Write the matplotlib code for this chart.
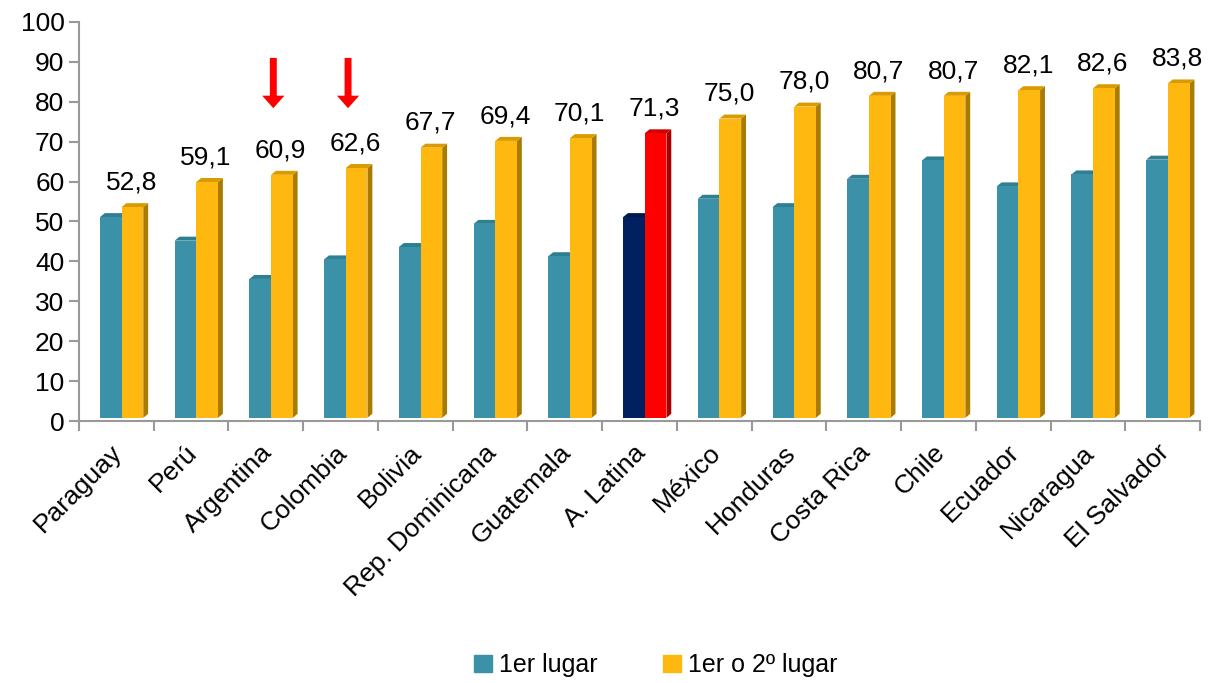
import matplotlib.pyplot as plt
import numpy as np
from matplotlib.patches import Polygon, Patch

plt.rcParams['font.family'] = ['Liberation Sans', 'DejaVu Sans']

# Data
paises = ["Paraguay", "Perú", "Argentina", "Colombia", "Bolivia",
          "Rep. Dominicana", "Guatemala", "A. Latina", "México", "Honduras",
          "Costa Rica", "Chile", "Ecuador", "Nicaragua", "El Salvador"]
primer_lugar = [50.3, 44.4, 34.8, 39.7, 42.8, 48.6, 40.5, 50.3, 54.9, 52.8,
                59.9, 64.5, 58.0, 61.0, 64.7]
primer_o_segundo = [52.8, 59.1, 60.9, 62.6, 67.7, 69.4, 70.1, 71.3, 75.0, 78.0,
                    80.7, 80.7, 82.1, 82.6, 83.8]
destacados = ["Argentina", "Colombia"]   # countries marked with a red arrow
promedio = "A. Latina"

TEAL, TEAL_SIDE, TEAL_TOP = "#3a91a8", "#2b6f81", "#2f7f93"
ORANGE, ORANGE_SIDE, ORANGE_TOP = "#ffb810", "#a97b00", "#d99b00"
NAVY, NAVY_SIDE, NAVY_TOP = "#002060", "#001440", "#00184c"
RED, RED_SIDE, RED_TOP = "#ff0000", "#a80000", "#d00000"

W = 0.29      # bar width
DX = 0.065    # 3d depth, x (data units)
DY = 1.0      # 3d depth, y (data units)
LIFT = 0.8    # front face lifted by depth
FS = 19


def bar3d(ax, left, value, front, side, top):
    ax.bar(left, value, width=W, bottom=LIFT, align="edge", color=front,
           linewidth=0, zorder=3)
    right = left + W
    h = value + LIFT
    ax.add_patch(Polygon([(right, LIFT), (right + DX, LIFT + DY),
                          (right + DX, h + DY), (right, h)],
                         closed=True, facecolor=side, edgecolor="none", zorder=2))
    ax.add_patch(Polygon([(left, h), (left + DX, h + DY),
                          (right + DX, h + DY), (right, h)],
                         closed=True, facecolor=top, edgecolor="none", zorder=2))


fig = plt.figure(figsize=(12.08, 6.83), dpi=100)
ax = fig.add_axes([0.0654, 0.3836, 0.928, 0.5842])

x = np.arange(len(paises))
for i, p in enumerate(paises):
    if p == promedio:
        c1 = (NAVY, NAVY_SIDE, NAVY_TOP)
        c2 = (RED, RED_SIDE, RED_TOP)
    else:
        c1 = (TEAL, TEAL_SIDE, TEAL_TOP)
        c2 = (ORANGE, ORANGE_SIDE, ORANGE_TOP)
    bar3d(ax, x[i] - 0.22, primer_lugar[i], *c1)
    bar3d(ax, x[i] + 0.07, primer_o_segundo[i], *c2)
    ax.text(x[i] + 0.2, primer_o_segundo[i] + LIFT + 3.2,
            f"{primer_o_segundo[i]:.1f}".replace(".", ","),
            ha="center", va="bottom", fontsize=FS)
    if p in destacados:
        ax.annotate("", xy=(x[i] + 0.1, 78.4), xytext=(x[i] + 0.1, 91),
                    arrowprops=dict(facecolor="red", edgecolor="none",
                                    width=5, headwidth=16, headlength=9))

ax.set_xlim(-0.5, len(paises) - 0.5)
ax.set_ylim(0, 100)
ax.set_yticks(np.arange(0, 101, 10))
ax.tick_params(axis="y", labelsize=FS, length=7, color="#999999", width=1.5)

ax.set_xticks(np.arange(-0.5, len(paises), 1))
ax.set_xticklabels([])
ax.tick_params(axis="x", which="major", length=7, color="#999999", width=1.5)
ax.set_xticks(x - 0.08, minor=True)
ax.set_xticklabels(paises, minor=True, rotation=45, ha="right",
                   rotation_mode="anchor", fontsize=FS)
ax.tick_params(axis="x", which="minor", length=0, pad=14)

for s in ["top", "right"]:
    ax.spines[s].set_visible(False)
for s in ["left", "bottom"]:
    ax.spines[s].set_color("#999999")
    ax.spines[s].set_linewidth(1.5)

handles = [Patch(color=TEAL, label="1er lugar"),
           Patch(color=ORANGE, label="1er o 2º lugar")]
fig.legend(handles=handles, loc="center", bbox_to_anchor=(0.543, 0.026),
           ncol=2, frameon=False, fontsize=18, handlelength=0.7,
           handleheight=0.7, handletextpad=0.3, columnspacing=2.6)

fig.savefig("out.png", dpi=100)
